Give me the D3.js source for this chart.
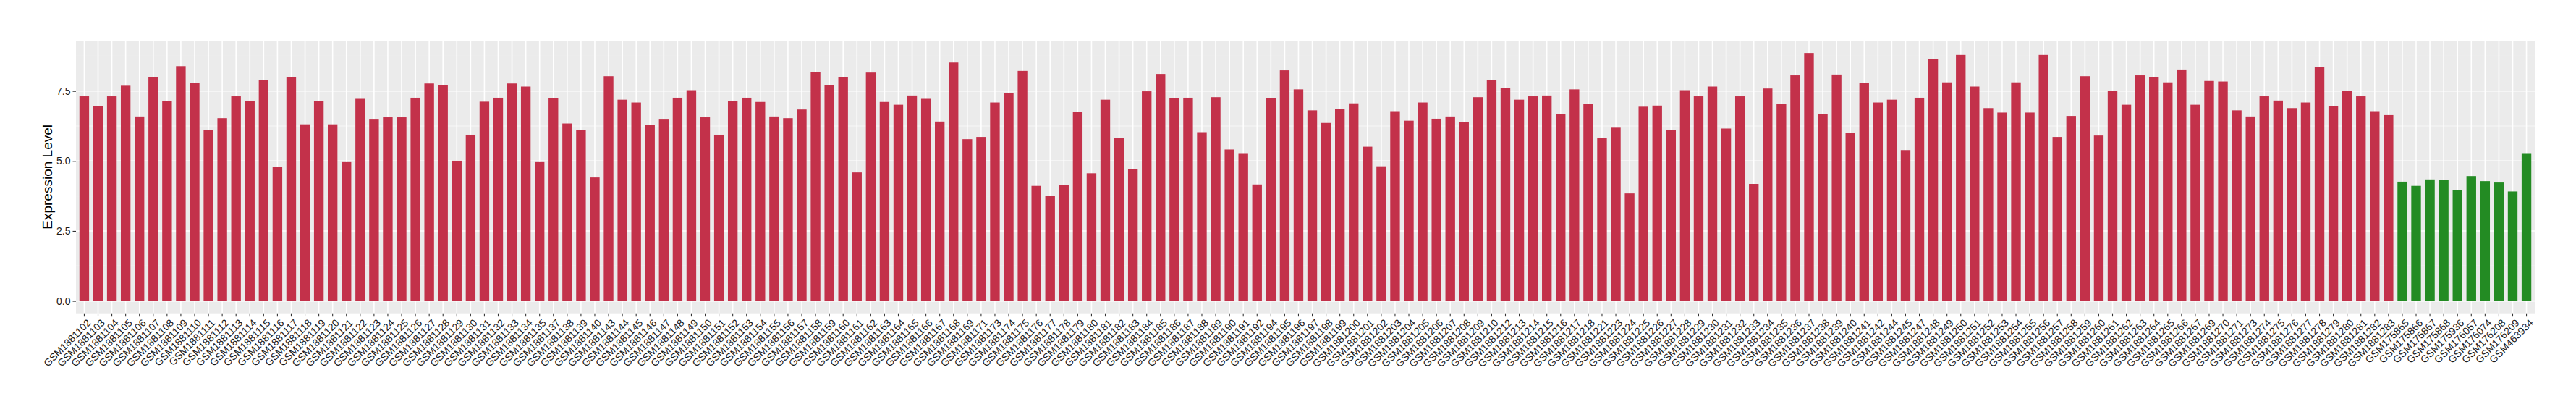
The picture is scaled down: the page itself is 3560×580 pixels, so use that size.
<!DOCTYPE html>
<html>
<head>
<meta charset="utf-8">
<script src="https://cdn.jsdelivr.net/npm/d3@7"></script>
<style>
  body { margin: 0; background: #fff; }
  svg { display: block; font-family: "Liberation Sans", Arial, sans-serif; }
</style>
</head>
<body>
<svg width="3560" height="580"></svg>
<script>
// tumour samples (red)
var tumorSamples = ["GSM1881102","GSM1881103","GSM1881104","GSM1881105","GSM1881106","GSM1881107","GSM1881108","GSM1881109","GSM1881110","GSM1881111","GSM1881112","GSM1881113","GSM1881114","GSM1881115","GSM1881116","GSM1881117","GSM1881118","GSM1881119","GSM1881120","GSM1881121","GSM1881122","GSM1881123","GSM1881124","GSM1881125","GSM1881126","GSM1881127","GSM1881128","GSM1881129","GSM1881130","GSM1881131","GSM1881132","GSM1881133","GSM1881134","GSM1881135","GSM1881137","GSM1881138","GSM1881139","GSM1881140","GSM1881143","GSM1881144","GSM1881145","GSM1881146","GSM1881147","GSM1881148","GSM1881149","GSM1881150","GSM1881151","GSM1881152","GSM1881153","GSM1881154","GSM1881155","GSM1881156","GSM1881157","GSM1881158","GSM1881159","GSM1881160","GSM1881161","GSM1881162","GSM1881163","GSM1881164","GSM1881165","GSM1881166","GSM1881167","GSM1881168","GSM1881169","GSM1881171","GSM1881173","GSM1881174","GSM1881175","GSM1881176","GSM1881177","GSM1881178","GSM1881179","GSM1881180","GSM1881181","GSM1881182","GSM1881183","GSM1881184","GSM1881185","GSM1881186","GSM1881187","GSM1881188","GSM1881189","GSM1881190","GSM1881191","GSM1881192","GSM1881194","GSM1881195","GSM1881196","GSM1881197","GSM1881198","GSM1881199","GSM1881200","GSM1881201","GSM1881202","GSM1881203","GSM1881204","GSM1881205","GSM1881206","GSM1881207","GSM1881208","GSM1881209","GSM1881210","GSM1881212","GSM1881213","GSM1881214","GSM1881215","GSM1881216","GSM1881217","GSM1881218","GSM1881221","GSM1881223","GSM1881224","GSM1881225","GSM1881226","GSM1881227","GSM1881228","GSM1881229","GSM1881230","GSM1881231","GSM1881232","GSM1881233","GSM1881234","GSM1881235","GSM1881236","GSM1881237","GSM1881238","GSM1881239","GSM1881240","GSM1881241","GSM1881242","GSM1881244","GSM1881245","GSM1881247","GSM1881248","GSM1881249","GSM1881250","GSM1881251","GSM1881252","GSM1881253","GSM1881254","GSM1881255","GSM1881256","GSM1881257","GSM1881258","GSM1881259","GSM1881260","GSM1881261","GSM1881262","GSM1881263","GSM1881264","GSM1881265","GSM1881266","GSM1881267","GSM1881269","GSM1881270","GSM1881271","GSM1881273","GSM1881274","GSM1881275","GSM1881276","GSM1881277","GSM1881278","GSM1881279","GSM1881280","GSM1881281","GSM1881282","GSM1881283"];

var tumorValues = [7.31,6.97,7.31,7.69,6.59,7.99,7.14,8.39,7.78,6.11,6.53,7.31,7.14,7.89,4.78,7.99,6.31,7.14,6.31,4.96,7.22,6.48,6.56,6.56,7.26,7.77,7.72,5.01,5.94,7.12,7.26,7.77,7.66,4.96,7.24,6.34,6.11,4.41,8.03,7.19,7.09,6.28,6.48,7.26,7.53,6.56,5.94,7.14,7.26,7.11,6.59,6.53,6.84,8.19,7.72,7.99,4.59,8.16,7.11,7.01,7.34,7.22,6.41,8.52,5.78,5.86,7.09,7.44,8.22,4.11,3.76,4.13,6.76,4.56,7.19,5.81,4.71,7.49,8.11,7.24,7.26,6.03,7.28,5.41,5.28,4.16,7.24,8.24,7.56,6.81,6.36,6.86,7.06,5.51,4.81,6.78,6.44,7.09,6.51,6.59,6.39,7.28,7.89,7.61,7.19,7.31,7.34,6.69,7.56,7.03,5.81,6.19,3.84,6.94,6.98,6.11,7.53,7.31,7.66,6.16,7.31,4.18,7.59,7.03,8.06,8.86,6.69,8.09,6.01,7.78,7.09,7.19,5.39,7.26,8.64,7.81,8.79,7.66,6.89,6.73,7.81,6.73,8.79,5.86,6.61,8.03,5.91,7.51,7.01,8.06,7.99,7.81,8.27,7.01,7.86,7.84,6.81,6.59,7.31,7.16,6.89,7.09,8.36,6.97,7.51,7.31,6.78,6.64];

// normal samples (green)
var normalSamples = ["GSM175865","GSM175866","GSM175867","GSM175868","GSM175936","GSM176057","GSM176074","GSM176208","GSM176209","GSM463934"];
var normalValues = [4.26,4.11,4.34,4.31,3.96,4.46,4.28,4.23,3.91,5.28];

var yTicks = [0, 2.5, 5, 7.5];
var yMinorTicks = [1.25, 3.75, 6.25, 8.75];

var data = tumorSamples.map(function(s, i) { return {sample: s, value: tumorValues[i], group: "tumor"}; })
  .concat(normalSamples.map(function(s, i) { return {sample: s, value: normalValues[i], group: "normal"}; }));

var colors = {tumor: "#c3314a", normal: "#238b23"};

var svg = d3.select("svg"),
    margin = {top: 56, right: 57, bottom: 147.3, left: 105},
    width = +svg.attr("width") - margin.left - margin.right,
    height = +svg.attr("height") - margin.top - margin.bottom;

var g = svg.append("g")
    .attr("transform", "translate(" + margin.left + "," + margin.top + ")");

var x = d3.scaleBand()
    .domain(data.map(function(d) { return d.sample; }))
    .range([0, width])
    .paddingInner(0.3)
    .paddingOuter(0.25);

var ymax = d3.max(data, function(d) { return d.value; });
var y = d3.scaleLinear()
    .domain([-0.05 * ymax, 1.05 * ymax])
    .range([height, 0]);

// panel
g.append("rect")
    .attr("width", width)
    .attr("height", height)
    .attr("fill", "#ebebeb");

g.selectAll(".minor")
  .data(yMinorTicks)
  .enter().append("line")
    .attr("x1", 0).attr("x2", width)
    .attr("y1", function(d) { return y(d); })
    .attr("y2", function(d) { return y(d); })
    .attr("stroke", "#f7f7f7")
    .attr("stroke-width", 1);

g.selectAll(".hgrid")
  .data(yTicks)
  .enter().append("line")
    .attr("x1", 0).attr("x2", width)
    .attr("y1", function(d) { return y(d); })
    .attr("y2", function(d) { return y(d); })
    .attr("stroke", "#fff")
    .attr("stroke-width", 1.6);

g.selectAll(".vgrid")
  .data(data)
  .enter().append("line")
    .attr("x1", function(d) { return x(d.sample) + x.bandwidth() / 2; })
    .attr("x2", function(d) { return x(d.sample) + x.bandwidth() / 2; })
    .attr("y1", 0).attr("y2", height)
    .attr("stroke", "#fff")
    .attr("stroke-width", 1.6);

g.selectAll(".bar")
  .data(data)
  .enter().append("rect")
    .attr("class", "bar")
    .attr("x", function(d) { return x(d.sample); })
    .attr("y", function(d) { return y(d.value); })
    .attr("width", x.bandwidth())
    .attr("height", function(d) { return y(0) - y(d.value); })
    .attr("fill", function(d) { return colors[d.group]; });

// axes
var yAxis = g.append("g")
    .call(d3.axisLeft(y).tickValues(yTicks).tickSize(4.5).tickPadding(3)
      .tickFormat(d3.format(".1f")));
yAxis.select(".domain").remove();
yAxis.selectAll("line").attr("stroke", "#333").attr("stroke-width", 1.1);
yAxis.selectAll("text")
    .attr("fill", "#1a1a1a")
    .style("font-size", "14px")
    .style("font-family", "Liberation Sans, Arial, sans-serif");

var xAxis = g.append("g")
    .attr("transform", "translate(0," + height + ")")
    .call(d3.axisBottom(x).tickSize(4.5).tickSizeOuter(0));
xAxis.select(".domain").remove();
xAxis.selectAll("line").attr("stroke", "#333").attr("stroke-width", 1.1);
xAxis.selectAll("text")
    .attr("fill", "#1a1a1a")
    .attr("y", 0)
    .attr("dy", "0.72em")
    .attr("text-anchor", "end")
    .attr("transform", "translate(3,7) rotate(-45)")
    .style("font-size", "14px")
    .style("font-family", "Liberation Sans, Arial, sans-serif");

svg.append("text")
    .attr("transform", "translate(72," + (margin.top + height / 2) + ") rotate(-90)")
    .attr("text-anchor", "middle")
    .style("font-size", "19px")
    .attr("fill", "#000")
    .text("Expression Level");
</script>
</body>
</html>
